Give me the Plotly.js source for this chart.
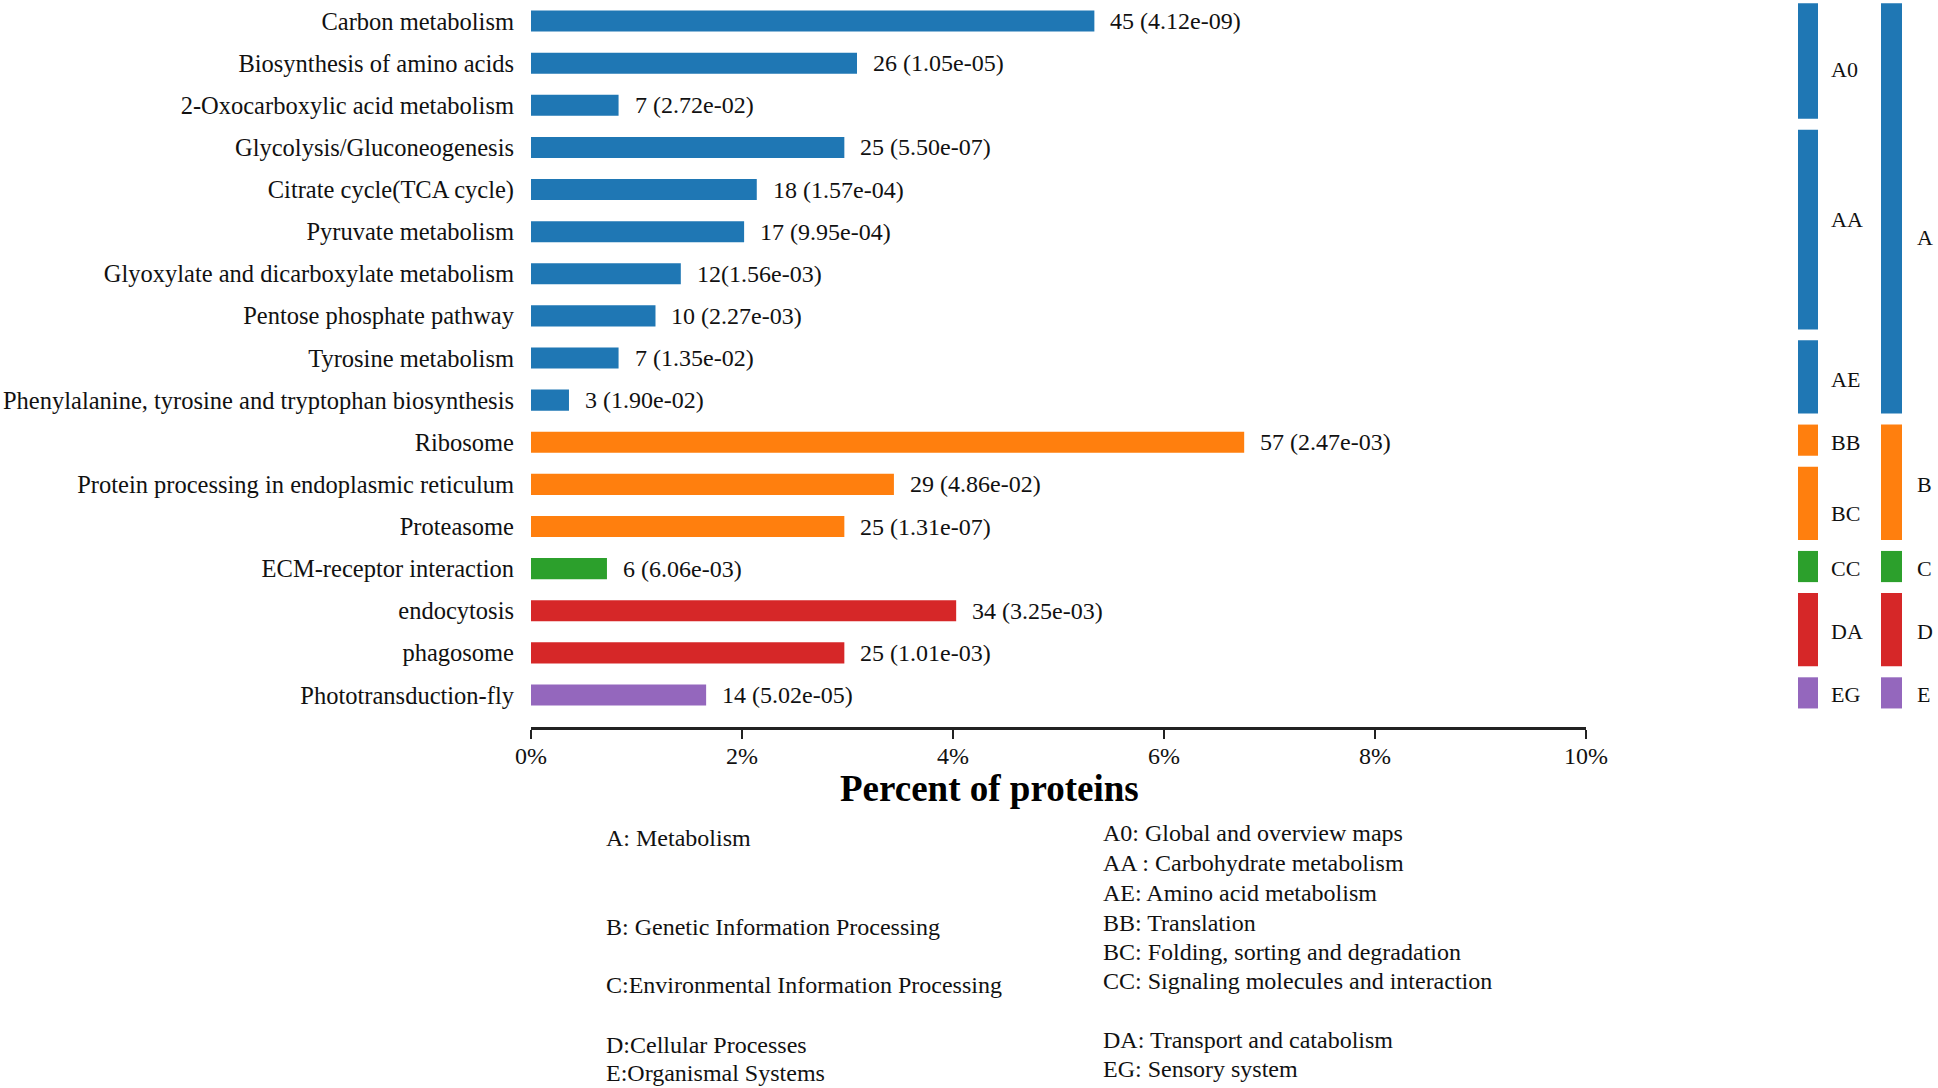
<!DOCTYPE html>
<html>
<head>
<meta charset="utf-8">
<script src="https://cdn.plot.ly/plotly-3.0.1.min.js"></script>
<style>html,body{margin:0;padding:0;background:#fff;}#chart{width:1938px;height:1088px;}</style>
</head>
<body>
<div id="chart"></div>
<script>
// ---------- data ----------
const categories = [
  "Carbon metabolism",
  "Biosynthesis of amino acids",
  "2-Oxocarboxylic acid metabolism",
  "Glycolysis/Gluconeogenesis",
  "Citrate cycle(TCA cycle)",
  "Pyruvate metabolism",
  "Glyoxylate and dicarboxylate metabolism",
  "Pentose phosphate pathway",
  "Tyrosine metabolism",
  "Phenylalanine, tyrosine and tryptophan biosynthesis",
  "Ribosome",
  "Protein processing in endoplasmic reticulum",
  "Proteasome",
  "ECM-receptor interaction",
  "endocytosis",
  "phagosome",
  "Phototransduction-fly"
];
const percents = [5.34, 3.09, 0.83, 2.97, 2.14, 2.02, 1.42, 1.18, 0.83, 0.36, 6.76, 3.44, 2.97, 0.72, 4.03, 2.97, 1.66];
const valueLabels = [
  "45 (4.12e-09)", "26 (1.05e-05)", "7 (2.72e-02)", "25 (5.50e-07)", "18 (1.57e-04)",
  "17 (9.95e-04)", "12(1.56e-03)", "10 (2.27e-03)", "7 (1.35e-02)", "3 (1.90e-02)",
  "57 (2.47e-03)", "29 (4.86e-02)", "25 (1.31e-07)", "6 (6.06e-03)", "34 (3.25e-03)",
  "25 (1.01e-03)", "14 (5.02e-05)"
];
const classCodes = ["A","A","A","A","A","A","A","A","A","A","B","B","B","C","D","D","E"];
const subCodes = ["A0","A0","A0","AA","AA","AA","AA","AA","AE","AE","BB","BC","BC","CC","DA","DA","EG"];
const tickValues = [0, 2, 4, 6, 8, 10];
const classColors = {A:"#1f77b4", B:"#ff7f0e", C:"#2ca02c", D:"#d62728", E:"#9467bd"};
const legendLeft = ["A: Metabolism", "B: Genetic Information Processing", "C:Environmental Information Processing", "D:Cellular Processes", "E:Organismal Systems"];
const legendRight = ["A0: Global and overview maps", "AA : Carbohydrate metabolism", "AE: Amino acid metabolism", "BB: Translation", "BC: Folding, sorting and degradation", "CC: Signaling molecules and interaction", "DA: Transport and catabolism", "EG: Sensory system"];

// ---------- layout helpers (pixel -> paper) ----------
const W = 1938, H = 1088;
const ML = 531, MR = W - 1586, MT = 0, MB = H - 727;
const PW = W - ML - MR, PH = H - MT - MB;
const px = x => (x - ML) / PW;
const py = y => (PH + MT - y) / PH;
const FONT = "Liberation Serif, Times New Roman, serif";
// label nudges for the group labels on the right (in row units)
const groupLabelNudge = {A0: 0.15, AA: -0.3, AE: 0.0, BC: 0.2, A: 0.65};

const barColors = classCodes.map(c => classColors[c]);

const traces = [{
  type: "bar",
  orientation: "h",
  y: categories,
  x: percents,
  width: 0.5,
  marker: {color: barColors, line: {width: 0}},
  hoverinfo: "skip"
}];

const annotations = [];
categories.forEach((c, i) => {
  annotations.push({
    x: percents[i], y: c, xref: "x", yref: "y",
    text: valueLabels[i], showarrow: false, xanchor: "left", yanchor: "middle",
    xshift: 14, font: {family: FONT, size: 24, color: "#111"}
  });
});

const shapes = [];
function addGroups(codes, x0, x1, labelX) {
  let start = 0;
  for (let i = 1; i <= codes.length; i++) {
    if (i === codes.length || codes[i] !== codes[start]) {
      const end = i - 1;
      const col = classColors[classCodes[start]];
      shapes.push({
        type: "rect", xref: "paper", yref: "y",
        x0: px(x0), x1: px(x1), y0: start - 0.42, y1: end + 0.32,
        fillcolor: col, line: {width: 0}
      });
      annotations.push({
        x: px(labelX), y: (start + end) / 2 + (groupLabelNudge[codes[start]] || 0),
        xref: "paper", yref: "y",
        text: codes[start], showarrow: false, xanchor: "left", yanchor: "middle",
        font: {family: FONT, size: 22, color: "#111"}
      });
      start = i;
    }
  }
}
addGroups(subCodes, 1798, 1818, 1829);
addGroups(classCodes, 1881, 1902, 1915);

annotations.push({
  x: px(989), y: py(788), xref: "paper", yref: "paper",
  text: "<b>Percent of proteins</b>", showarrow: false, xanchor: "center", yanchor: "middle",
  font: {family: FONT, size: 37, color: "#000"}
});

const leftY = [838, 927, 985, 1045, 1073];
legendLeft.forEach((t, i) => annotations.push({
  x: px(604), y: py(leftY[i]), xref: "paper", yref: "paper", text: t, showarrow: false,
  xanchor: "left", yanchor: "middle", font: {family: FONT, size: 24, color: "#111"}
}));
const rightY = [833, 863, 893, 923, 952, 981, 1040, 1069];
legendRight.forEach((t, i) => annotations.push({
  x: px(1101), y: py(rightY[i]), xref: "paper", yref: "paper", text: t, showarrow: false,
  xanchor: "left", yanchor: "middle", font: {family: FONT, size: 24, color: "#111"}
}));

const layout = {
  width: W, height: H,
  margin: {l: ML, r: MR, t: MT, b: MB, pad: 0},
  paper_bgcolor: "#fff", plot_bgcolor: "#fff",
  showlegend: false,
  font: {family: FONT, color: "#111"},
  xaxis: {
    range: [0, 10], tickvals: tickValues, ticktext: tickValues.map(v => v + "%"),
    showgrid: false, zeroline: false, showline: true, linecolor: "#222", linewidth: 2.5,
    ticks: "outside", ticklen: 9, tickwidth: 2, tickcolor: "#222",
    ticklabelstandoff: -3,
    tickfont: {family: FONT, size: 24, color: "#111"}, fixedrange: true
  },
  yaxis: {
    type: "category", categoryorder: "array", categoryarray: categories,
    range: [16.76, -0.5], showgrid: false, zeroline: false, showline: false, ticks: "",
    ticklabelstandoff: 16,
    tickfont: {family: FONT, size: 24.5, color: "#111"}, fixedrange: true
  },
  shapes: shapes,
  annotations: annotations
};

Plotly.newPlot("chart", traces, layout, {staticPlot: true, displayModeBar: false});
</script>
</body>
</html>
